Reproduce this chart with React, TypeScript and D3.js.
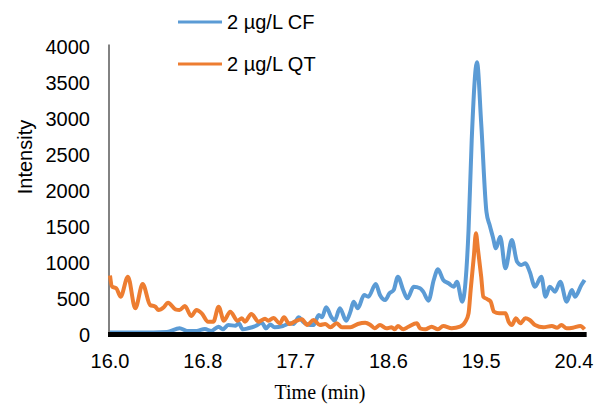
import React from "react";
import * as d3 from "d3";

// chromatogram samples (time in min, intensity)
const cfTimes = [16.0, 16.28, 16.54, 16.66, 16.73, 16.82, 16.9, 16.96, 17.03, 17.07, 17.12, 17.19, 17.22, 17.26, 17.31, 17.38, 17.44, 17.48, 17.52, 17.56, 17.64, 17.71, 17.74, 17.79, 17.83, 17.9, 17.93, 17.98, 18.01, 18.05, 18.1, 18.13, 18.18, 18.24, 18.28, 18.31, 18.35, 18.41, 18.45, 18.52, 18.56, 18.61, 18.65, 18.69, 18.73, 18.78, 18.82, 18.88, 18.94, 18.97, 19.02, 19.07, 19.11, 19.16, 19.21, 19.26, 19.29, 19.34, 19.37, 19.4, 19.43, 19.48, 19.52, 19.57, 19.6, 19.63, 19.66, 19.7, 19.75, 19.81, 19.86, 19.9, 19.94, 19.98, 20.03, 20.09, 20.13, 20.17, 20.22, 20.27, 20.33, 20.38, 20.41, 20.47, 20.5];
const cfValues = [28, 28, 35, 86, 50, 50, 76, 50, 108, 72, 132, 122, 155, 72, 86, 118, 164, 86, 140, 100, 118, 155, 146, 239, 178, 132, 132, 271, 239, 378, 239, 192, 364, 192, 317, 456, 364, 549, 525, 701, 549, 479, 572, 618, 803, 618, 503, 664, 642, 595, 470, 757, 906, 757, 711, 664, 733, 456, 711, 1450, 2700, 3780, 2933, 1700, 1520, 1358, 1197, 1358, 919, 1313, 1011, 965, 989, 872, 664, 803, 525, 664, 595, 733, 456, 618, 525, 688, 757];

const qtTimes = [16.0, 16.02, 16.06, 16.1, 16.17, 16.24, 16.31, 16.38, 16.43, 16.46, 16.51, 16.55, 16.62, 16.66, 16.71, 16.77, 16.82, 16.87, 16.93, 16.98, 17.03, 17.08, 17.14, 17.21, 17.25, 17.28, 17.34, 17.41, 17.47, 17.5, 17.55, 17.61, 17.65, 17.7, 17.75, 17.82, 17.87, 17.93, 17.99, 18.04, 18.09, 18.15, 18.2, 18.28, 18.35, 18.42, 18.47, 18.51, 18.56, 18.62, 18.67, 18.7, 18.73, 18.78, 18.83, 18.91, 18.94, 18.99, 19.05, 19.11, 19.16, 19.24, 19.32, 19.37, 19.4, 19.42, 19.45, 19.47, 19.49, 19.52, 19.54, 19.58, 19.61, 19.64, 19.69, 19.75, 19.78, 19.81, 19.85, 19.89, 19.94, 19.98, 20.03, 20.11, 20.19, 20.24, 20.28, 20.33, 20.39, 20.46, 20.5];
const qtValues = [820, 664, 642, 525, 803, 364, 701, 410, 386, 340, 378, 442, 350, 340, 396, 257, 340, 294, 178, 178, 386, 192, 317, 192, 225, 178, 285, 178, 220, 192, 230, 155, 239, 146, 178, 211, 132, 201, 132, 146, 100, 155, 100, 100, 146, 164, 132, 86, 132, 86, 100, 72, 118, 72, 108, 155, 86, 72, 108, 72, 118, 86, 108, 178, 294, 618, 1080, 1405, 1174, 803, 525, 489, 456, 317, 294, 294, 178, 132, 225, 155, 225, 201, 132, 100, 118, 94, 132, 86, 94, 118, 72];

const yTicks = [0, 500, 1000, 1500, 2000, 2500, 3000, 3500, 4000];
const xTickTimes = [16.0, 16.88, 17.76, 18.64, 19.52, 20.4];
const xTickLabels = ["16.0", "16.8", "17.7", "18.6", "19.5", "20.4"];

const seriesNames = ["2 µg/L CF", "2 µg/L QT"];
const seriesColors = ["#5B9BD5", "#ED7D31"];

const sans = "Arial, 'Liberation Sans', sans-serif";

export default function App() {
  const width = 603;
  const height = 409;

  const x = d3.scaleLinear().domain([16.0, 20.4]).range([110, 574]);
  const xEnd = x(20.52);
  const y = d3.scaleLinear().domain([0, 4000]).range([334.5, 46.5]);

  const line = d3
    .line<[number, number]>()
    .x(d => x(d[0]))
    .y(d => y(d[1]))
    .curve(d3.curveMonotoneX);

  const cf = cfTimes.map((t, i) => [t, cfValues[i]] as [number, number]);
  const qt = qtTimes.map((t, i) => [t, qtValues[i]] as [number, number]);

  return (
    <svg
      width={width}
      height={height}
      style={{ position: "absolute", left: 0, top: 0, background: "#fff" }}
    >
      {/* y axis */}
      <line x1={109} x2={109} y1={y(4000) - 2} y2={y(0)} stroke="#595959" strokeWidth={1.5} />
      {yTicks.map(v => (
        <text
          key={`y${v}`}
          x={90}
          y={y(v)}
          textAnchor="end"
          dominantBaseline="central"
          fontFamily={sans}
          fontSize={20}
          fill="#000"
        >
          {v}
        </text>
      ))}
      <text
        transform={`translate(25,157) rotate(-90)`}
        textAnchor="middle"
        dominantBaseline="central"
        fontFamily={sans}
        fontSize={20}
      >
        Intensity
      </text>

      {/* series */}
      <path d={line(cf) || ""} fill="none" stroke={seriesColors[0]} strokeWidth={4} strokeLinejoin="round" />
      <path d={line(qt) || ""} fill="none" stroke={seriesColors[1]} strokeWidth={4} strokeLinejoin="round" />

      {/* thick x axis */}
      <line x1={108} x2={xEnd} y1={y(0)} y2={y(0)} stroke="#000" strokeWidth={5} />
      {xTickTimes.map((t, i) => (
        <text
          key={`x${i}`}
          x={x(t)}
          y={361}
          textAnchor="middle"
          dominantBaseline="central"
          fontFamily={sans}
          fontSize={20}
        >
          {xTickLabels[i]}
        </text>
      ))}
      <text
        x={320}
        y={392}
        textAnchor="middle"
        dominantBaseline="central"
        fontFamily="'Times New Roman', 'Liberation Serif', serif"
        fontSize={20}
      >
        Time (min)
      </text>

      {/* legend */}
      {seriesNames.map((name, i) => (
        <g key={name} transform={`translate(178,${22 + i * 42})`}>
          <line x1={0} x2={44} y1={0} y2={0} stroke={seriesColors[i]} strokeWidth={3} />
          <text x={49} y={0} dominantBaseline="central" fontFamily={sans} fontSize={20}>
            {name}
          </text>
        </g>
      ))}
    </svg>
  );
}
